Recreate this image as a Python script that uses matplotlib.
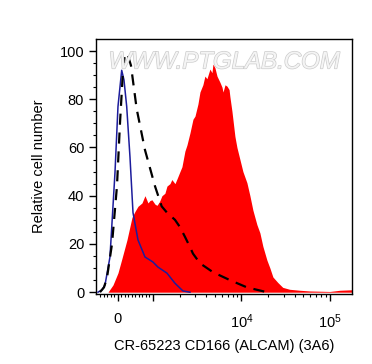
import numpy as np
import matplotlib
matplotlib.use("Agg")
import matplotlib.pyplot as plt
from matplotlib.ticker import FixedLocator, NullFormatter
import matplotlib.patheffects as pe

plt.rcParams['font.family'] = ['Liberation Sans', 'DejaVu Sans']
plt.rcParams['mathtext.fontset'] = 'custom'
plt.rcParams['mathtext.rm'] = 'Liberation Sans'
plt.rcParams['mathtext.it'] = 'Liberation Sans'

# Stained sample (red filled histogram)
red_x = [-286, -143, 0, 114, 257, 400, 486, 571, 686, 771, 857, 914, 971, 1053, 1110, 1183,
         1263, 1364, 1439, 1556, 1634, 1773, 1870, 2018, 2126, 2297, 2421, 2618, 2832, 2985,
         3223, 3397, 3667, 3865, 4073, 4406, 4644, 4764, 5021, 5293, 5722, 6031, 6191, 6526,
         6876, 7249, 7412, 7814, 8441, 8898, 9618, 10394, 11530, 12470, 13480, 14960, 16170,
         17480, 19410, 20990, 22690, 25790, 29310, 35050, 45620, 59370, 77280, 100000, 130100, 177400]
red_y = [0, 3, 8, 14, 21.7, 31, 33.5, 35.6, 37, 40, 37, 38, 38.3, 36.5, 36, 37.5,
         40, 41, 44, 45, 46.7, 45, 47, 50, 52, 58.5, 61, 66, 71.7, 73,
         78, 83, 86, 89.6, 88.5, 92.5, 91, 94.6, 93, 89.6, 87, 85, 83, 86,
         85.4, 84, 81, 75, 64.6, 60, 55, 50, 45.4, 40, 34, 28, 24.6,
         19, 13.3, 10, 6.3, 4, 2, 1.2, 0.8, 0.5, 0.4, 0.3, 0.8, 1.0]

# Isotype control (blue line)
blue_x = [-571, -457, -371, -229, -86, 0, 106, 171, 249, 343, 429, 571, 771, 1000,
          1139, 1439, 1773, 2183, 2618]
blue_y = [0, 1, 3, 14.6, 49.5, 77, 92, 88, 77, 56, 33, 21.7, 14.6, 12.5,
          10.4, 7.9, 3.7, 0.5, 0]

# Unstained control (black dashed line)
dash_x = [-514, -400, -314, -171, -29, 57, 143, 200, 286, 371, 534, 771, 1053, 1254,
          1439, 1773, 2018, 2297, 2618, 2832, 3397, 4764, 7412, 11530, 14960, 19410]
dash_y = [0, 2, 6, 20, 44, 70, 92, 99, 98, 94, 76, 59, 44, 35.6,
          33, 30, 27, 23, 18.75, 16, 12, 8.3, 5, 2, 1, 0]

x_major = [0, 1000, 10000, 100000]
x_major_labels = ['0', '', r'$10^4$', r'$10^5$']
x_minor = ([-500, -400, -300, -200, -100] + list(range(100, 1000, 100))
           + list(range(2000, 10000, 1000)) + list(range(20000, 100000, 10000)))
y_major = [0, 20, 40, 60, 80, 100]

fig = plt.figure(figsize=(3.72, 3.64), dpi=100)
ax = fig.add_axes([0.258, 0.192, 0.688, 0.701])
ax.set_xscale('symlog', linthresh=1000, linscale=0.356)

ax.fill_between(red_x, red_y, 0, color='#ff0000', lw=0, zorder=2)
ax.plot(blue_x, blue_y, color='#1c1c9c', lw=1.1, zorder=3)
ax.plot(dash_x, dash_y, color='black', lw=1.6, ls=(0, (5, 3.5)), zorder=4)

ax.set_xlim(-629, 177400)
ax.set_ylim(-0.8, 105)

ax.xaxis.set_major_locator(FixedLocator(x_major))
ax.set_xticklabels(x_major_labels)
ax.xaxis.set_minor_locator(FixedLocator(x_minor))
ax.xaxis.set_minor_formatter(NullFormatter())
ax.set_yticks(y_major)
ax.yaxis.set_minor_locator(FixedLocator(list(range(0, 105, 5))))

ax.tick_params(axis='both', which='major', direction='out', length=5, width=1,
               labelsize=10.5, colors='black')
ax.tick_params(axis='both', which='minor', direction='out', length=2.5, width=0.8)
ax.tick_params(axis='x', which='major', pad=8)
for s in ax.spines.values():
    s.set_linewidth(1)

ax.set_ylabel('Relative cell number', fontsize=10.5, labelpad=10)
ax.set_xlabel('CR-65223 CD166 (ALCAM) (3A6)', fontsize=10.5, labelpad=6)

ax.text(0.5, 0.91, 'WWW.PTGLAB.COM', transform=ax.transAxes, ha='center', va='center',
        fontsize=17.3, style='italic', color='#f4f4f4', zorder=5,
        path_effects=[pe.withStroke(linewidth=1.0, foreground='#cccccc')])

fig.savefig('out.png', dpi=100)
